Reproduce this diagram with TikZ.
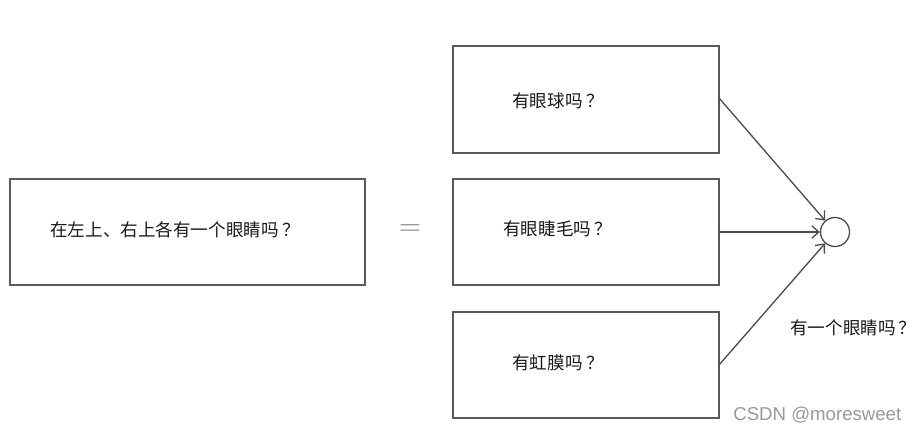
\documentclass[tikz,border=0pt]{standalone}
\usepackage{fontspec}
\usetikzlibrary{arrows.meta}
\newfontfamily\cjk{Noto Sans CJK SC}
\setsansfont{Liberation Sans}
\newcommand{\qm}{\hspace{2pt}？}
\begin{document}
\begin{tikzpicture}[x=0.02cm,y=-0.02cm,
  box/.style={draw=black!65,line width=0.7pt},
  lbl/.style={font=\cjk\fontsize{10}{12}\selectfont,text=black!90,inner sep=0pt},
  conn/.style={draw=black!70,line width=0.75pt,-{Straight Barb[length=4pt,width=7pt]}}]
\useasboundingbox (0,0) rectangle (915,432);
\draw[box] (10,179) rectangle (365,285);
\draw[box] (453,46) rectangle (719,153);
\draw[box] (453,179) rectangle (719,285);
\draw[box] (453,312) rectangle (719,418);
\node[lbl,anchor=west] (t0) at (50,230) {在左上、右上各有一个眼睛吗\qm};
\node[lbl,anchor=west] (t1) at (512,101) {有眼球吗\qm};
\node[lbl,anchor=west] (t2) at (503,229) {有眼睫毛吗\qm};
\node[lbl,anchor=west] (t3) at (512,363) {有虹膜吗\qm};
\node[font=\fontsize{18}{18}\selectfont,text=black!50,inner sep=0pt] (eq) at (410,230) {$=$};
\node[circle,draw=black!70,line width=0.75pt,minimum size=0.58cm,inner sep=0pt] (c) at (835,232) {};
\coordinate (s1) at (719,98);
\coordinate (s2) at (719,232);
\coordinate (s3) at (719,365);
\draw[conn] (s1) -- (c);
\draw[conn] (s2) -- (c);
\draw[conn] (s3) -- (c);
\node[lbl,anchor=west] (out) at (790,328) {有一个眼睛吗\hspace{1.5pt}？};
\node[font=\sffamily\fontsize{10.6}{12}\selectfont,text=black!40,anchor=west,inner sep=0pt] (wm) at (733,415) {CSDN @moresweet};
\end{tikzpicture}
\end{document}
